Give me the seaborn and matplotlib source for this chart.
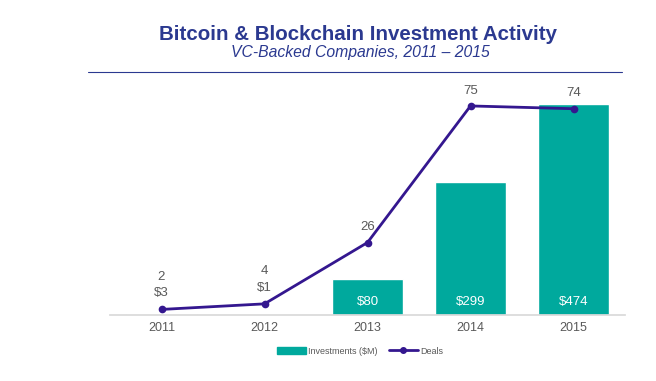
import numpy as np
import pandas as pd
import matplotlib.pyplot as plt
import seaborn as sns
from matplotlib.patches import Patch
from matplotlib.lines import Line2D

years = ["2011", "2012", "2013", "2014", "2015"]
investments = [3, 1, 80, 299, 474]
deals = [2, 4, 26, 75, 74]

bar_color = "#00a99d"
line_color = "#34178f"
title_color = "#2b3990"
text_gray = "#595959"

sns.set_theme(style="white")
plt.rcParams["font.family"] = ["Liberation Sans", "DejaVu Sans"]

df = pd.DataFrame({"year": years, "investments": investments, "deals": deals})

fig = plt.figure(figsize=(6.56, 3.81), dpi=100)
ax = fig.add_axes([110 / 656, 66 / 381, 515 / 656, 223 / 381])

sns.barplot(data=df, x="year", y="investments", color=bar_color, width=0.68,
            saturation=1, ax=ax)
ax.set_ylim(0, 500)
ax.set_xlim(-0.5, 4.5)
ax.set_xlabel("")
ax.set_ylabel("")
ax.set_yticks([])
for s in ["top", "right", "left"]:
    ax.spines[s].set_visible(False)
ax.spines["bottom"].set_color("#d9d9d9")
ax.tick_params(axis="x", colors=text_gray, labelsize=9, length=0, pad=5)

ax2 = ax.twinx()
sns.pointplot(data=df, x="year", y="deals", color=line_color, ax=ax2,
              markers="o", markersize=4, linewidth=2)
ax2.set_ylim(0, 80)
ax2.set_xlim(-0.5, 4.5)
ax2.set_yticks([])
ax2.set_ylabel("")
for s in ax2.spines.values():
    s.set_visible(False)

# labels
for i, (inv, d) in enumerate(zip(investments, deals)):
    if inv < 20:
        ax2.annotate(f"${inv}", (i, d), xytext=(0, 11.5), textcoords="offset points",
                     ha="center", va="center", fontsize=9.5, color=text_gray)
        ax2.annotate(f"{d}", (i, d), xytext=(0, 23.5), textcoords="offset points",
                     ha="center", va="center", fontsize=9.5, color=text_gray)
    else:
        ax2.annotate(f"{d}", (i, d), xytext=(0, 11), textcoords="offset points",
                     ha="center", va="center", fontsize=9.5, color=text_gray)
        ax.annotate(f"${inv}", (i, 0), xytext=(0, 9.5), textcoords="offset points",
                    ha="center", va="center", fontsize=9.5, color="white")

fig.text(358 / 656, 1 - 34 / 381, "Bitcoin & Blockchain Investment Activity",
         ha="center", va="center", fontsize=14.8, fontweight="bold", color=title_color)
fig.text(360 / 656, 1 - 53 / 381, "VC-Backed Companies, 2011 \u2013 2015",
         ha="center", va="center", fontsize=11.3, style="italic", color=title_color)
fig.add_artist(Line2D([88 / 656, 622 / 656], [1 - 72 / 381, 1 - 72 / 381],
                      color="#2b3990", linewidth=0.8))

handles = [Patch(color=bar_color, label="Investments ($M)"),
           Line2D([], [], color=line_color, marker="o", markersize=4, linewidth=2,
                  label="Deals")]
fig.legend(handles=handles, loc="center", bbox_to_anchor=(360 / 656, 1 - 351 / 381),
           ncol=2, frameon=False, fontsize=6.5, handlelength=3.2, handleheight=0.7,
           columnspacing=1.2, handletextpad=0.3, labelcolor=text_gray)

fig.savefig("out.png", dpi=100)
